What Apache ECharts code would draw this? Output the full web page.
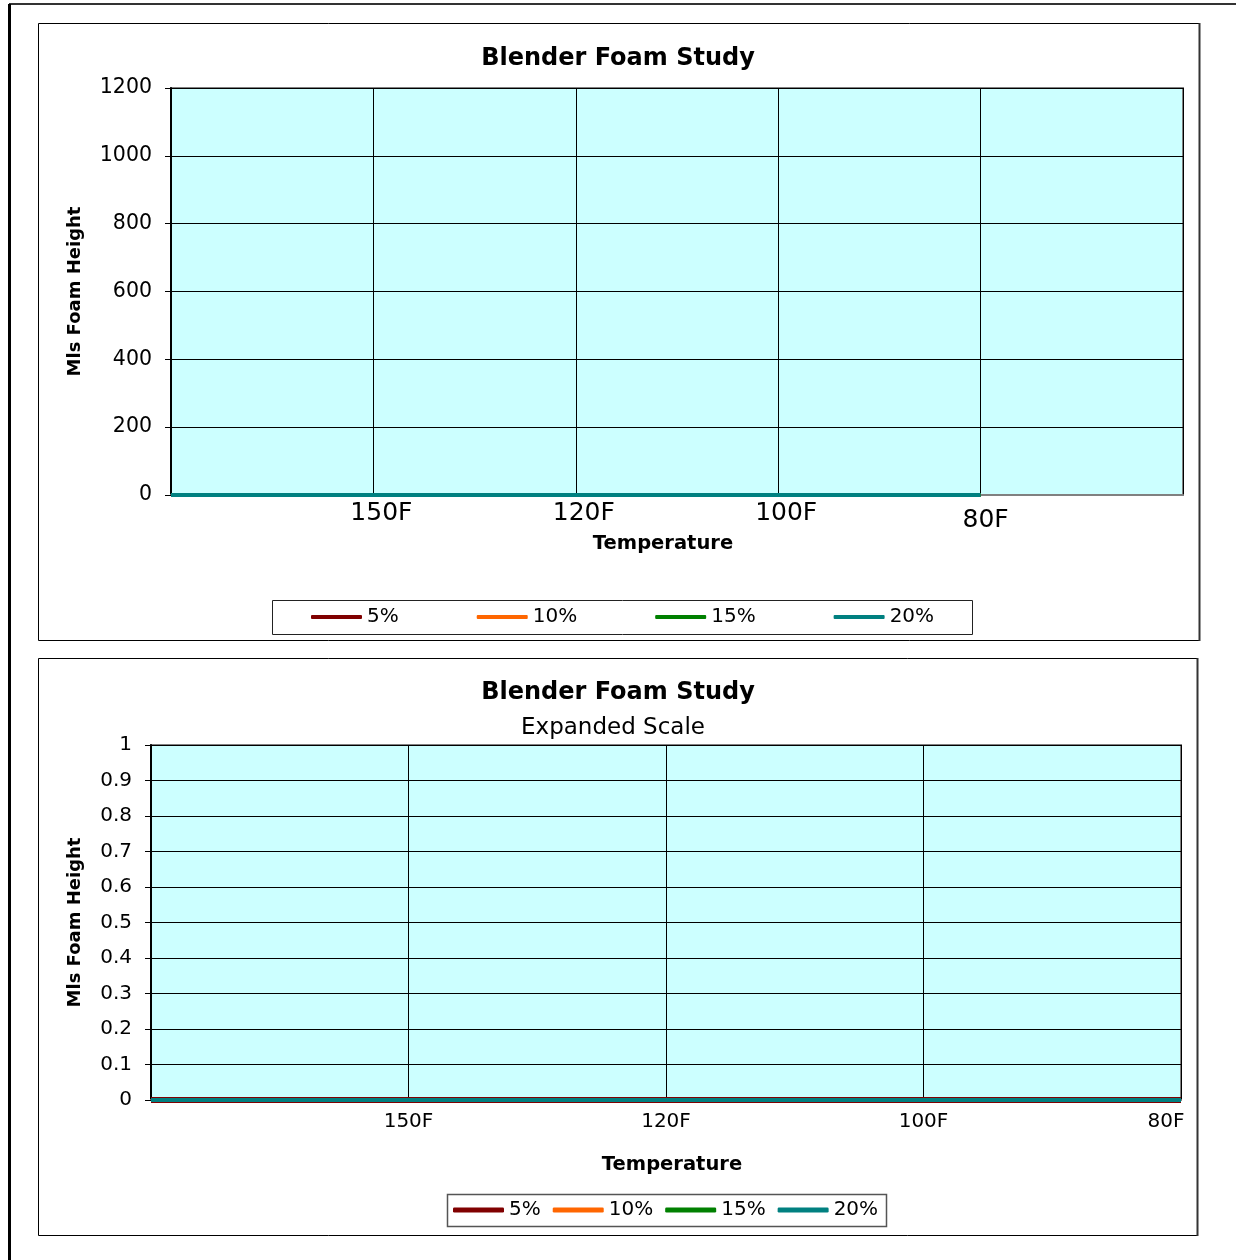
<!DOCTYPE html>
<html>
<head>
<meta charset="utf-8">
<title>Blender Foam Study</title>
<script src="https://cdn.jsdelivr.net/npm/echarts@6/dist/echarts.min.js"></script>
<style>
  html, body { margin: 0; padding: 0; background: #fff; }
  #chart { width: 1236px; height: 1260px; }
</style>
</head>
<body>
<div id="chart"></div>
<script>
// Temperature categories (leading / trailing blanks keep the plot frame wide)
const tempsMain = ['', '150F', '120F', '100F', '80F', ''];
const tempsExpanded = ['', '150F', '120F', '100F', '80F'];

// Foam height (mls) per concentration
const foam5 = [0, 0, 0, 0, 0];
const foam10 = [0, 0, 0, 0, 0];
const foam15 = [0, 0, 0, 0, 0];
const foam20 = [0, 0, 0, 0, 0];

const seriesNames = ['5%', '10%', '15%', '20%'];
const seriesColors = ['#800000', '#FF6600', '#008000', '#008080'];
const seriesData = [foam5, foam10, foam15, foam20];

// Axis tick values
const mainTicks = { min: 0, max: 1200, interval: 200 };
const expandedTicks = { min: 0, max: 1, interval: 0.1 };

const FONT = 'DejaVu Sans';

function lineSeries(gridIdx, widths) {
  return seriesNames.map((name, i) => ({
    name: name,
    type: 'line',
    xAxisIndex: gridIdx,
    yAxisIndex: gridIdx,
    data: seriesData[i],
    symbol: 'none',
    clip: true,
    color: seriesColors[i],
    lineStyle: { color: seriesColors[i], width: widths[i] },
    animation: false
  }));
}

const chart = echarts.init(document.getElementById('chart'), null, { renderer: 'canvas' });

const option = {
  backgroundColor: '#ffffff',
  animation: false,
  textStyle: { fontFamily: FONT, color: '#000' },
  title: [
    { text: 'Blender Foam Study', left: 'center', top: 42,
      textStyle: { fontFamily: FONT, fontSize: 24, fontWeight: 'bold', color: '#000' } },
    { text: 'Blender Foam Study', left: 'center', top: 676,
      textStyle: { fontFamily: FONT, fontSize: 24, fontWeight: 'bold', color: '#000' } },
    { text: 'Expanded Scale', left: 608, textAlign: 'center', top: 712,
      textStyle: { fontFamily: FONT, fontSize: 23, fontWeight: 'normal', color: '#000' } }
  ],
  legend: [
    { data: seriesNames, left: 311, top: 606, padding: 0, itemGap: 78,
      icon: 'roundRect', itemWidth: 51, itemHeight: 4,
      textStyle: { fontFamily: FONT, fontSize: 20, color: '#000', lineHeight: 22 } },
    { data: seriesNames, left: 453, top: 1199, padding: 0, itemGap: 12,
      icon: 'roundRect', itemWidth: 51, itemHeight: 5,
      textStyle: { fontFamily: FONT, fontSize: 20, color: '#000', lineHeight: 22 } }
  ],
  grid: [
    { left: 171, top: 88, width: 1012, height: 407, show: true,
      backgroundColor: '#CCFFFF', borderColor: '#808080', borderWidth: 2 },
    { left: 151, top: 745, width: 1030, height: 355, show: true,
      backgroundColor: '#CCFFFF', borderColor: '#808080', borderWidth: 2 }
  ],
  xAxis: [
    { type: 'category', gridIndex: 0, data: tempsMain, boundaryGap: false,
      axisLine: { lineStyle: { color: '#808080', width: 2 } },
      axisTick: { show: false },
      splitLine: { show: true, interval: 0, lineStyle: { color: '#000', width: 1 } },
      axisLabel: { interval: 0, margin: 6, fontFamily: FONT, fontSize: 25, color: '#000',
        formatter: v => v === '80F' ? '{low|' + v + '}' : '{n|' + v + '}',
        rich: {
          n: { fontFamily: FONT, fontSize: 25, color: '#000', padding: [0, 0, 0, 16] },
          low: { fontFamily: FONT, fontSize: 25, color: '#000', padding: [7, 0, 0, 10] }
        } },
      name: 'Temperature', nameLocation: 'middle', nameGap: 38,
      nameTextStyle: { fontFamily: FONT, fontSize: 19.5, fontWeight: 'bold', color: '#000',
        padding: [0, 28, 0, 0] } },
    { type: 'category', gridIndex: 1, data: tempsExpanded, boundaryGap: false,
      axisLine: { lineStyle: { color: '#808080', width: 2 } },
      axisTick: { show: false },
      splitLine: { show: true, interval: 0, lineStyle: { color: '#000', width: 1 } },
      axisLabel: { interval: 0, margin: 12, fontFamily: FONT, fontSize: 20, color: '#000',
        formatter: v => v === '80F' ? '{end|' + v + '}' : v,
        rich: { end: { fontFamily: FONT, fontSize: 20, color: '#000', padding: [0, 30, 0, 0] } } },
      name: 'Temperature', nameLocation: 'middle', nameGap: 55,
      nameTextStyle: { fontFamily: FONT, fontSize: 19.5, fontWeight: 'bold', color: '#000',
        padding: [0, 0, 0, 12] } }
  ],
  yAxis: [
    { type: 'value', gridIndex: 0, min: mainTicks.min, max: mainTicks.max, interval: mainTicks.interval,
      axisLine: { show: true, lineStyle: { color: '#000', width: 2 } },
      axisTick: { show: true, length: 6, lineStyle: { color: '#000' } },
      splitLine: { show: true, lineStyle: { color: '#000', width: 1 } },
      axisLabel: { margin: 19, fontFamily: FONT, fontSize: 20.5, color: '#000',
        formatter: v => String(v) },
      name: 'Mls Foam Height', nameLocation: 'middle', nameGap: 87, nameRotate: 90,
      nameTextStyle: { fontFamily: FONT, fontSize: 18, fontWeight: 'bold', color: '#000' } },
    { type: 'value', gridIndex: 1, min: expandedTicks.min, max: expandedTicks.max, interval: expandedTicks.interval,
      axisLine: { show: true, lineStyle: { color: '#000', width: 2 } },
      axisTick: { show: true, length: 6, lineStyle: { color: '#000' } },
      splitLine: { show: true, lineStyle: { color: '#000', width: 1 } },
      axisLabel: { margin: 19, fontFamily: FONT, fontSize: 20, color: '#000',
        formatter: v => String(Math.round(v * 10) / 10) },
      name: 'Mls Foam Height', nameLocation: 'middle', nameGap: 67, nameRotate: 90,
      nameTextStyle: { fontFamily: FONT, fontSize: 18, fontWeight: 'bold', color: '#000' } }
  ],
  series: [].concat(lineSeries(0, [4, 4, 4, 4]), lineSeries(1, [6, 4, 4, 4])),
  graphic: [
    // page frame
    { type: 'line', shape: { x1: 9, y1: 4, x2: 1236, y2: 4 }, style: { stroke: '#333', lineWidth: 2 }, silent: true },
    { type: 'line', shape: { x1: 9.5, y1: 4, x2: 9.5, y2: 1260 }, style: { stroke: '#000', lineWidth: 3 }, silent: true },
    // panel boxes
    { type: 'rect', shape: { x: 38.5, y: 23.5, width: 1161, height: 617 },
      style: { fill: null, stroke: '#000', lineWidth: 1 }, silent: true, z: -1 },
    { type: 'line', shape: { x1: 1199.5, y1: 23, x2: 1199.5, y2: 641 }, style: { stroke: '#333', lineWidth: 2 }, silent: true },
    { type: 'rect', shape: { x: 38.5, y: 658.5, width: 1159, height: 577 },
      style: { fill: null, stroke: '#000', lineWidth: 1 }, silent: true, z: -1 },
    { type: 'line', shape: { x1: 1197.5, y1: 658, x2: 1197.5, y2: 1236 }, style: { stroke: '#333', lineWidth: 2 }, silent: true },
    // legend frames
    { type: 'rect', shape: { x: 272.5, y: 600.5, width: 700, height: 34 },
      style: { fill: null, stroke: '#222', lineWidth: 1 }, silent: true },
    { type: 'rect', shape: { x: 447.5, y: 1194.5, width: 439, height: 32 },
      style: { fill: null, stroke: '#555', lineWidth: 1.5 }, silent: true }
  ]
};

chart.setOption(option);
</script>
</body>
</html>
